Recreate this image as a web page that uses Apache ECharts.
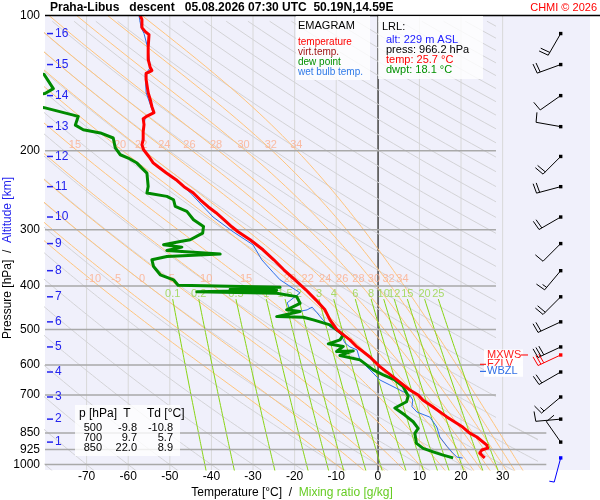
<!DOCTYPE html>
<html><head><meta charset="utf-8">
<script src="https://cdn.jsdelivr.net/npm/echarts@6/dist/echarts.min.js"></script>
<style>html,body{margin:0;padding:0;background:#fff}#c{width:600px;height:500px}</style>
</head><body><div id="c"></div>
<script>
// ---------------- data ----------------
const pressureLevels = [100, 200, 300, 400, 500, 600, 700, 850, 925, 1000];
const gridPressures = [200, 300, 400, 500, 600, 700, 850, 925, 1000];
const tempTicks = [-70, -60, -50, -40, -30, -20, -10, 0, 10, 20, 30];
const isotherms = [-70, -60, -50, -40, -30, -20, -10, 0, 10, 20, 30];
const altitudeKm = [1, 2, 3, 4, 5, 6, 7, 8, 9, 10, 11, 12, 13, 14, 15, 16];
const altitudeP = [891, 792, 707, 622, 547, 481, 423, 370, 322, 281, 240.5, 206, 176.8, 150.8, 128.6, 109.7];
const dryAdiabatsC = [-80,-70,-60,-50,-40,-30,-20,-10,0,10,20,30,40,50,60,70,80,90,100,110,120,130,140,150,160,170,180,190,200,210,220,230,240,250,260,270,280,290,300];
const moistAdiabatsC = [-10, -5, 0, 5, 10, 15, 20, 22, 24, 26, 28, 30, 32, 34];
const moistLabels200 = [15, 20, 22, 24, 26, 28, 30, 32, 34];
const moistLabels400 = [-10, -5, 0, 5, 10, 15, 20, 22, 24, 26, 28, 30, 32, 34];
const mixingRatios = [0.1, 0.2, 0.5, 1, 1.5, 2, 3, 4, 6, 8, 10, 12, 15, 20, 25];

const tempP = [100,102.1,106.4,108.6,110.3,117.9,125.3,130.6,132.6,134.6,138.8,148.5,153.9,159.6,164.6,168.0,169.7,175.0,181.5,189.1,194.0,199.0,206.3,212.8,217.2,224.0,232.1,240.6,248.1,257.2,266.5,274.9,284.9,295.4,303.0,315.8,332.4,349.9,368.3,387.7,408.1,429.6,452.3,476.1,501.2,527.6,547,576,605,637,682,700,718,743,783,825,850,868,905,919,928,943,957,966.2];
const tempT = [-57.1,-56.7,-56.7,-55.9,-55.0,-55.2,-55.2,-54.7,-54.3,-55.7,-55.7,-55.2,-54.7,-54.3,-53.8,-55.7,-56.4,-56.2,-56.4,-56.4,-56.7,-56.3,-55.0,-54.0,-52.8,-50.9,-48.5,-46.6,-44.4,-42.7,-40.8,-38.9,-37.0,-35.1,-33.6,-30.7,-27.6,-25.0,-22.6,-19.9,-17.3,-14.9,-12.7,-11.5,-9.8,-6.7,-5.0,-1.9,0.5,3.6,7.7,9.7,10.8,13.2,16.6,20.4,22.0,23.8,26.2,26.4,25.0,24.5,25.2,25.7];

const dewP = [133,135.3,145.5,149.2,151,159.5,160.4,167.7,175.4,179.6,182.6,187.4,197.2,204.2,207.7,213.1,224.4,240.2,248.4,252.8,257.2,266.1,273.0,284.9,295.0,305.1,315.8,318.5,324.0,327.9,333.7,339.8,344.0,349.9,362.2,377.9,387.7,398.8,403.0,407.1,409.2,412.4,415.2,422.6,437.3,452.3,456.3,468.2,469.6,476.1,488.5,514.2,527.6,538.4,545.5,560.1,558.2,571.3,584.6,615.4,631.5,647.9,670.6,703.5,724.4,748.2,775.6,802.8,830.4,852.0,896.9,920.2,936.5,952.4,966.2];
const dewT = [-84,-80.2,-78.0,-80.0,-84,-84,-80.2,-72.0,-72.7,-70.8,-66.7,-63.6,-63.1,-61.9,-60.0,-57.9,-55.5,-55.2,-55.5,-50.7,-49.1,-48.7,-45.9,-44.3,-41.9,-42.1,-45.1,-47.5,-51.5,-47.1,-50.7,-37.9,-50.7,-54.3,-53.9,-52.3,-49.1,-48.0,-23.5,-35.5,-24.3,-43.5,-24.3,-19.5,-18.7,-21.9,-18.7,-24.3,-17.9,-15.5,-11.5,-8.3,-9.1,-11.9,-8.3,-9.9,-5.9,-9.1,-4.3,-1.1,1.3,4.1,6.1,7.3,6.9,4.1,6.5,8.5,9.7,8.9,9.3,10.9,13.3,15.7,18.1];

const wbP = [100.1,106.4,109.7,119.1,130.6,135.3,148.5,157.9,164.6,168.9,179.6,194.0,199.0,206.3,217.2,232.1,248.1,281,303,324,349.9,373,387.7,401,414.4,436.3,452.3,457,452.3,446,459.3,476.1,493.6,509,536,547,555.4,584.6,615.4,647.9,664.8,682.1,700,718,743,763.8,783.8,825,868,910,942,962,967];
const wbT = [-57.4,-56.9,-56.2,-55.2,-54.7,-55.9,-55.7,-54.7,-54.0,-55.9,-56.4,-56.7,-56.4,-55.2,-53.1,-48.7,-45.1,-39.6,-34.8,-30.0,-27.9,-25.2,-23.5,-21.1,-18.7,-21.8,-21.1,-19.4,-17.0,-15.8,-14.6,-13.2,-11.5,-9.1,-7.9,-6.7,-5.0,-4.3,-1.9,0.5,2.9,5.3,7.7,8.4,8.2,9.4,12.5,14.2,14.9,16.6,18.0,19.0,20.4];

const windP = [109.7,128.6,150.8,176.8,206,240.5,281,322,370,423,481,547,570,622,707,792,891,966.2];
const windDir = [210,250,235,280,225,255,240,225,220,225,245,245,245,240,230,265,325,195];
const windSpd = [20,20,10,10,20,20,20,10,15,20,20,30,30,20,15,10,10,5];
const windKind = [0,0,0,0,0,0,0,0,0,0,0,0,1,0,0,0,0,2];

const levelNames = ['MXWS', 'FZLV', 'WBZL'];
const levelP = [570, 598, 620];

const tableHeader = ['p [hPa]', 'T', 'Td [°C]'];
const tableP = ['500', '700', '850'];
const tableT = ['-9.8', '9.7', '22.0'];
const tableTd = ['-10.8', '5.7', '8.9'];

const infoLines = ['LRL:', 'alt: 229 m ASL', 'press: 966.2 hPa', 'temp: 25.7 °C', 'dwpt: 18.1 °C'];
const legendLines = ['EMAGRAM', 'temperature', 'virt.temp.', 'dew point', 'wet bulb temp.'];

// ---------------- style / layout constants ----------------
const FONT = "'Liberation Sans', Arial, Helvetica, sans-serif";
const P_BOTTOM = 1028;
const T_MIN = -80, T_MAX = 51;
const TMAX_UPPER = 28.4, TMAX_LOWER = 38.5, P_STEP = 812;
const C_RED = '#ff0000', C_GREEN = '#008a00', C_BLUE = '#2f6fe6';

// ---------------- helpers ----------------
const lp = p => Math.log10(p);
const series = [];
function addLine(pts, color, width, z) {
  series.push({type: 'line', data: pts.map(a => [a[1], lp(a[0])]), symbol: 'none', silent: true,
    animation: false, lineStyle: {color: color, width: width}, z: z, clip: true, emphasis: {disabled: true}});
}
function tBound(p) { return p >= P_STEP ? TMAX_LOWER : TMAX_UPPER; }
function clipRight(pts) {
  const segs = []; let cur = [];
  for (let i = 0; i < pts.length; i++) {
    const [p, t] = pts[i];
    const inside = t <= tBound(p);
    if (inside) {
      if (!cur.length && i > 0) {
        const [p0, t0] = pts[i - 1]; const b = tBound(p);
        const f = (b - t0) / (t - t0);
        cur.push([p0 + f * (p - p0), b]);
      }
      cur.push([p, t]);
    } else if (cur.length) {
      const [p0, t0] = pts[i - 1]; const b = tBound(p0);
      const f = (b - t0) / (t - t0);
      cur.push([p0 + f * (p - p0), b]);
      segs.push(cur); cur = [];
    }
  }
  if (cur.length > 1) segs.push(cur);
  return segs;
}
function es(tk) { return 6.112 * Math.exp(17.67 * (tk - 273.15) / (tk - 29.65)); }
function dTdp(tk, p) {
  const Rd = 287.04, cp = 1005.7, Lv = 2.501e6, eps = 0.622;
  const e = es(tk); const rs = eps * e / (p - e);
  return (Rd * tk + Lv * rs) / (p * (cp + Lv * Lv * rs * eps / (Rd * tk * tk)));
}
function moistCurve(thw) {
  const pts = [];
  let T = thw + 273.15, p = 1000;
  const down = [];
  while (p < P_BOTTOM + 10) { const dp = 5; const k1 = dTdp(T, p); const k2 = dTdp(T + k1 * dp, p + dp); T += 0.5 * (k1 + k2) * dp; p += dp; down.unshift([p, T - 273.15]); }
  pts.push(...down);
  T = thw + 273.15; p = 1000; pts.push([p, T - 273.15]);
  while (p > 100) { const dp = -5; const k1 = dTdp(T, p); const k2 = dTdp(T + k1 * dp, p + dp); T += 0.5 * (k1 + k2) * dp; p += dp; pts.push([p, T - 273.15]); }
  return pts;
}
function tAt(pts, p) {
  for (let i = 1; i < pts.length; i++) {
    const a = pts[i - 1], b = pts[i];
    if ((a[0] - p) * (b[0] - p) <= 0) { const f = (p - a[0]) / (b[0] - a[0]); return a[1] + f * (b[1] - a[1]); }
  }
  return NaN;
}
function tdFromW(w, p) { const e = w * p / (622 + w); const a = Math.log(e / 6.112); return 243.5 * a / (17.67 - a); }

// ---------------- background lines ----------------
isotherms.forEach(t => addLine([[P_BOTTOM, t], [100, t]], t === 0 ? '#8c8c8c' : '#d8d8d8', t === 0 ? 1.3 : 1, 1));

dryAdiabatsC.forEach(th => {
  const pts = [];
  for (let p = P_BOTTOM + 5; p >= 100; p -= 5) pts.push([p, (th + 273.15) * Math.pow(p / 1000, 0.2857) - 273.15]);
  clipRight(pts).forEach(s => addLine(s, '#d3d3d6', 1, 1));
});

const moistCurves = {};
moistAdiabatsC.forEach(th => {
  const pts = moistCurve(th); moistCurves[th] = pts;
  clipRight(pts).forEach(s => addLine(s, '#ffc47c', 1, 1));
});

mixingRatios.forEach(w => {
  const pts = [];
  for (let p = 428; p <= P_BOTTOM + 10; p += 10) pts.push([p, tdFromW(w, p)]);
  addLine(pts, '#88d414', 1, 1);
});

gridPressures.forEach(p => addLine([[p, T_MIN], [p, p >= 850 ? 40.5 : TMAX_UPPER]], '#a9a9a9', 1.5, 3));

// ---------------- labels for background lines ----------------
function labelSeries(data, color, size, offset) {
  series.push({type: 'scatter', data: data, symbolSize: 1, itemStyle: {color: 'rgba(0,0,0,0)'}, silent: true,
    animation: false, clip: false, z: 4,
    label: {show: true, position: 'inside', formatter: '{b}', color: color, fontSize: size, fontFamily: FONT, offset: offset}});
}
labelSeries(moistLabels200.map(th => ({name: String(th), value: [tAt(moistCurves[th], 194), lp(194)]})), '#fdae8c', 11, [5, 0]);
labelSeries(moistLabels400.map(th => ({name: String(th), value: [tAt(moistCurves[th], 386), lp(386)]})), '#fdae8c', 11, [3, 0]);
labelSeries(mixingRatios.map(w => ({name: String(w), value: [tdFromW(w, 428), lp(416)]})), '#96d445', 11, [0, 0]);

// ---------------- sounding profiles ----------------
function profile(P, T, color, width, z) {
  series.push({type: 'line', data: P.map((p, i) => [T[i], lp(p)]), symbol: 'none', silent: true, animation: false,
    lineStyle: {color: color, width: width, join: 'round'}, z: z, clip: true});
}
profile(wbP, wbT, C_BLUE, 1, 5);
profile(dewP, dewT, C_GREEN, 3, 6);
profile(tempP, tempT, C_RED, 3, 7);

// ---------------- altitude scale ----------------
series.push({type: 'custom', data: altitudeP.map((p, i) => [0, lp(p), altitudeKm[i]]), encode: {x: 0, y: 1},
  silent: true, animation: false, clip: false, z: 8,
  renderItem: function (params, api) {
    const cs = params.coordSys; const y = api.coord([0, api.value(1)])[1];
    return {type: 'group', children: [
      {type: 'line', shape: {x1: cs.x + 2, y1: y, x2: cs.x + 8, y2: y}, style: {stroke: '#2323ee', lineWidth: 1.5}},
      {type: 'text', x: cs.x + 10, y: y, style: {text: String(api.value(2)), fill: '#2323ee', font: '12px ' + FONT, verticalAlign: 'middle'}}
    ]};
  }});

// ---------------- wind barbs ----------------
series.push({type: 'custom', data: windP.map((p, i) => [0, lp(p), windDir[i], windSpd[i], windKind[i]]), encode: {x: 0, y: 1},
  silent: true, animation: false, clip: false, z: 9,
  renderItem: function (params, api) {
    const cs = params.coordSys;
    const x0 = cs.x + cs.width - 29.3;
    const y0 = api.coord([0, api.value(1)])[1];
    const d = api.value(2) * Math.PI / 180, spd = api.value(3), kind = api.value(4);
    const col = kind === 1 ? '#ff0000' : (kind === 2 ? '#0000ff' : '#000000');
    const L = 25, ux = Math.sin(d), uy = -Math.cos(d);
    const tx = x0 + L * ux, ty = y0 + L * uy;
    const ch = [
      {type: 'line', shape: {x1: x0, y1: y0, x2: tx, y2: ty}, style: {stroke: col, lineWidth: 1}},
      {type: 'rect', shape: {x: x0 - 1.7, y: y0 - 1.7, width: 3.4, height: 3.4}, style: {fill: col}}
    ];
    const a = Math.atan2(uy, ux) + 85 * Math.PI / 180, bx = Math.cos(a), by = Math.sin(a);
    let s = spd, pos = 0;
    while (s >= 7.5) {
      const px = tx - pos * ux, py = ty - pos * uy;
      ch.push({type: 'line', shape: {x1: px, y1: py, x2: px + 10 * bx, y2: py + 10 * by}, style: {stroke: col, lineWidth: 1}});
      s -= 10; pos += 3.2;
    }
    if (s >= 2.5) {
      const px = tx - pos * ux, py = ty - pos * uy;
      ch.push({type: 'line', shape: {x1: px, y1: py, x2: px + 5 * bx, y2: py + 5 * by}, style: {stroke: col, lineWidth: 1}});
    }
    return {type: 'group', children: ch};
  }});

// ---------------- special levels (MXWS, FZLV, WBZL) ----------------
series.push({type: 'custom', data: levelP.map((p, i) => [0, lp(p), i]), encode: {x: 0, y: 1},
  silent: true, animation: false, clip: false, z: 10,
  renderItem: function (params, api) {
    const cs = params.coordSys; const right = cs.x + cs.width;
    const y = api.coord([0, api.value(1)])[1]; const i = api.value(2);
    const col = i === 2 ? '#2f6fe6' : '#ff2020';
    const ch = [{type: 'rect', shape: {x: right - 106, y: y - 5.5, width: 39, height: 11}, style: {fill: 'rgba(255,255,255,0.92)'}},
      {type: 'text', x: right - 103, y: y, style: {text: levelNames[i], fill: col, font: '11px ' + FONT, verticalAlign: 'middle'}}];
    if (i === 0) ch.push({type: 'line', shape: {x1: right - 69, y1: y, x2: right - 62, y2: y}, style: {stroke: col, lineWidth: 1.2}});
    else ch.push({type: 'line', shape: {x1: right - 110, y1: y, x2: right - 104, y2: y}, style: {stroke: col, lineWidth: 1.2}});
    return {type: 'group', children: ch};
  }});

// ---------------- graphic texts / boxes ----------------
const legendColors = ['#000000', '#ff0000', '#a01515', '#009000', '#2f7ae8'];
const infoColors = ['#000000', '#1a1aff', '#000000', '#ff0000', '#009000'];
const gfx = [];
gfx.push({type: 'line', shape: {x1: 45, y1: 15.5, x2: 600, y2: 15.5}, style: {stroke: '#000', lineWidth: 1.5}, z: 20});
gfx.push({type: 'text', x: 50, y: 8, style: {text: 'Praha-Libus   descent   05.08.2026 07:30 UTC  50.19N,14.59E', font: 'bold 12px ' + FONT, fill: '#000', verticalAlign: 'middle'}, z: 20});
gfx.push({type: 'text', x: 597, y: 8, style: {text: 'CHMI © 2026', font: '11px ' + FONT, fill: '#ff0000', align: 'right', verticalAlign: 'middle'}, z: 20});
gfx.push({type: 'rect', shape: {x: 296, y: 16, width: 74, height: 64}, style: {fill: 'rgba(255,255,255,0.8)'}, z: 20});
legendLines.forEach((t, i) => gfx.push({type: 'text', x: 298, y: i === 0 ? 26 : 42 + (i - 1) * 10, style: {text: t, font: (i === 0 ? '11px ' : '10px ') + FONT, fill: legendColors[i], verticalAlign: 'middle'}, z: 21}));
gfx.push({type: 'rect', shape: {x: 378, y: 16, width: 105, height: 63}, style: {fill: 'rgba(255,255,255,0.8)'}, z: 20});
infoLines.forEach((t, i) => gfx.push({type: 'text', x: i === 0 ? 382 : 386, y: i === 0 ? 27 : 40 + (i - 1) * 10, style: {text: t, font: '11px ' + FONT, fill: infoColors[i], verticalAlign: 'middle'}, z: 21}));
gfx.push({type: 'rect', shape: {x: 75, y: 405, width: 105, height: 51}, style: {fill: 'rgba(255,255,255,0.8)'}, z: 20});
gfx.push({type: 'text', x: 79, y: 414, style: {text: tableHeader[0], font: '12px ' + FONT, fill: '#000', verticalAlign: 'middle'}, z: 21});
gfx.push({type: 'text', x: 127, y: 414, style: {text: tableHeader[1], font: '12px ' + FONT, fill: '#000', align: 'center', verticalAlign: 'middle'}, z: 21});
gfx.push({type: 'text', x: 147, y: 414, style: {text: tableHeader[2], font: '12px ' + FONT, fill: '#000', verticalAlign: 'middle'}, z: 21});
tableP.forEach((v, i) => {
  const y = 428 + i * 10;
  gfx.push({type: 'text', x: 102, y: y, style: {text: v, font: '11px ' + FONT, fill: '#000', align: 'right', verticalAlign: 'middle'}, z: 21});
  gfx.push({type: 'text', x: 137, y: y, style: {text: tableT[i], font: '11px ' + FONT, fill: '#000', align: 'right', verticalAlign: 'middle'}, z: 21});
  gfx.push({type: 'text', x: 173, y: y, style: {text: tableTd[i], font: '11px ' + FONT, fill: '#000', align: 'right', verticalAlign: 'middle'}, z: 21});
});
gfx.push({type: 'text', x: 8, y: 258, rotation: Math.PI / 2, style: {text: '{a|Pressure [hPa]  /  }{b|Altitude [km]}', align: 'center', verticalAlign: 'middle',
  rich: {a: {fill: '#000', font: '12px ' + FONT}, b: {fill: '#2323ee', font: '12px ' + FONT}}}, z: 21});
gfx.push({type: 'text', x: 292, y: 493, style: {text: '{a|Temperature [°C]  /  }{b|Mixing ratio [g/kg]}', align: 'center', verticalAlign: 'middle',
  rich: {a: {fill: '#000', font: '12px ' + FONT}, b: {fill: '#66cc22', font: '12px ' + FONT}}}, z: 21});

// ---------------- chart ----------------
const chart = echarts.init(document.getElementById('c'), null, {renderer: 'canvas'});
chart.setOption({
  animation: false,
  backgroundColor: '#ffffff',
  grid: {left: 45, top: 15.5, right: 10, bottom: 30, show: true, backgroundColor: '#f0f0fb', borderWidth: 0},
  xAxis: {type: 'value', min: T_MIN, max: T_MAX, axisLine: {show: false}, axisTick: {show: false}, splitLine: {show: false},
    axisLabel: {customValues: tempTicks, color: '#000', fontSize: 12, fontFamily: FONT, margin: 1}},
  yAxis: {type: 'value', min: 2, max: lp(P_BOTTOM), inverse: true, axisLine: {show: true, lineStyle: {color: '#000', width: 1.5}},
    axisTick: {show: false}, splitLine: {show: false},
    axisLabel: {customValues: pressureLevels.map(lp), formatter: v => String(Math.round(Math.pow(10, v))), color: '#000', fontSize: 12, fontFamily: FONT, margin: 5}},
  series: series,
  graphic: gfx
});
</script>
</body></html>
